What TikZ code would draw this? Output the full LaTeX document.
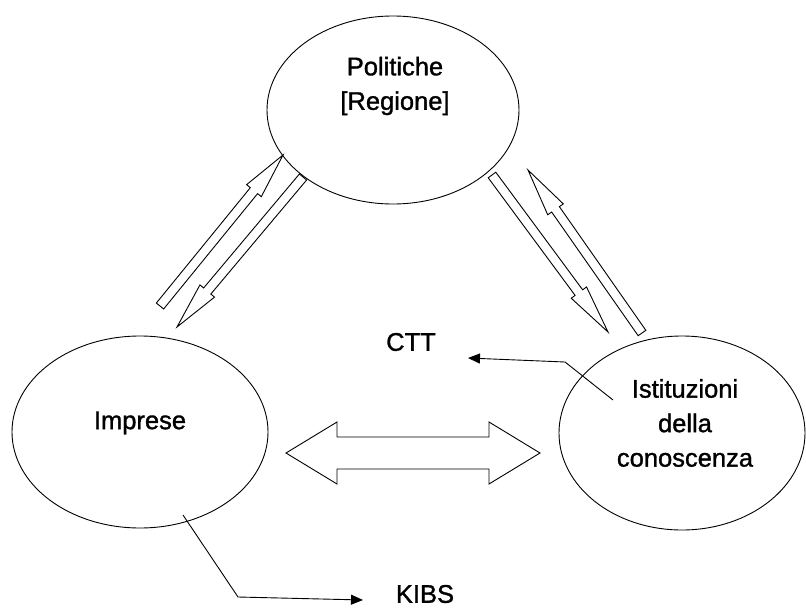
\documentclass[tikz,border=0pt]{standalone}
\usepackage{fontspec}
\setmainfont{Liberation Sans}
\newfontfamily\lblfont[FakeBold=1.2]{Liberation Sans}
\usetikzlibrary{shapes.geometric,calc,arrows.meta}

% name, tail, tip, shaft half-width, head half-width, head length
\newcommand{\blockarrow}[6]{%
  \coordinate (#1b) at ($(#3)!#6!(#2)$);
  \draw[blk] ($(#2)!#4!90:(#3)$) -- ($(#1b)!#4!90:(#3)$) -- ($(#1b)!#5!90:(#3)$) -- (#3)
    -- ($(#1b)!#5!-90:(#3)$) -- ($(#1b)!#4!-90:(#3)$) -- ($(#2)!#4!-90:(#3)$) -- cycle;
}
% name, tip A, tip B, shaft half-width, head half-width, head length
\newcommand{\dblblockarrow}[6]{%
  \coordinate (#1a) at ($(#2)!#6!(#3)$);
  \coordinate (#1b) at ($(#3)!#6!(#2)$);
  \draw[blk] (#2) -- ($(#1a)!#5!90:(#3)$) -- ($(#1a)!#4!90:(#3)$) -- ($(#1b)!#4!-90:(#2)$)
    -- ($(#1b)!#5!-90:(#2)$) -- (#3) -- ($(#1b)!#5!90:(#2)$) -- ($(#1b)!#4!90:(#2)$)
    -- ($(#1a)!#4!-90:(#3)$) -- ($(#1a)!#5!-90:(#3)$) -- cycle;
}

\begin{document}
\begin{tikzpicture}[x=1pt,y=-1pt,
  ell/.style={draw, ellipse, line width=0.9pt, inner sep=0pt},
  blk/.style={draw, line width=0.9pt, fill=white, line join=miter},
  lbl/.style={font=\lblfont\fontsize{25.5}{34.5}\selectfont, align=center, inner sep=0pt},
  conn/.style={line width=0.9pt, -{Triangle[length=12pt,width=10pt]}}]
\useasboundingbox[fill=white] (0,0) rectangle (806,608);

% ellipses
\node[ell, minimum width=252pt, minimum height=188pt] (pol) at (393,110) {};
\node[ell, minimum width=256pt, minimum height=192pt] (imp) at (140,432) {};
\node[ell, minimum width=246pt, minimum height=194pt] (ist) at (682,433) {};

% texts
\node[lbl] (poltxt) at (395,86) {Politiche\\{}[Regione]};
\node[lbl] (imptxt) at (140,423) {Imprese};
\node[lbl] (isttxt) at (685,423) {Istituzioni\\della\\conoscenza};
\node[lbl] (ctt) at (411,342) {CTT};
\node[lbl] (kibs) at (425,594) {KIBS};

% block arrows
\coordinate (upLt) at (160,306); \coordinate (upLp) at (283,155);
\coordinate (dnLt) at (303,177); \coordinate (dnLp) at (177,327);
\coordinate (dnRt) at (492,175); \coordinate (dnRp) at (608,332);
\coordinate (upRt) at (642,333); \coordinate (upRp) at (528,170);
\coordinate (hA) at (286,453);   \coordinate (hB) at (540,453);

\blockarrow{upL}{upLt}{upLp}{4.7pt}{9.5pt}{46pt}
\blockarrow{dnL}{dnLt}{dnLp}{4.7pt}{9.5pt}{47pt}
\blockarrow{dnR}{dnRt}{dnRp}{4.7pt}{9.5pt}{49pt}
\blockarrow{upR}{upRt}{upRp}{4.7pt}{9.5pt}{48pt}
\dblblockarrow{hz}{hA}{hB}{16pt}{31pt}{51pt}

% connectors
\coordinate (cttS) at (613,400);
\coordinate (cttK) at (565,362);
\coordinate (cttE) at (468,358);
\draw[conn] (cttS) -- (cttK) -- (cttE);

\coordinate (kibsS) at (183,515);
\coordinate (kibsK) at (238,597);
\coordinate (kibsE) at (363,600);
\draw[conn] (kibsS) -- (kibsK) -- (kibsE);
\end{tikzpicture}
\end{document}
